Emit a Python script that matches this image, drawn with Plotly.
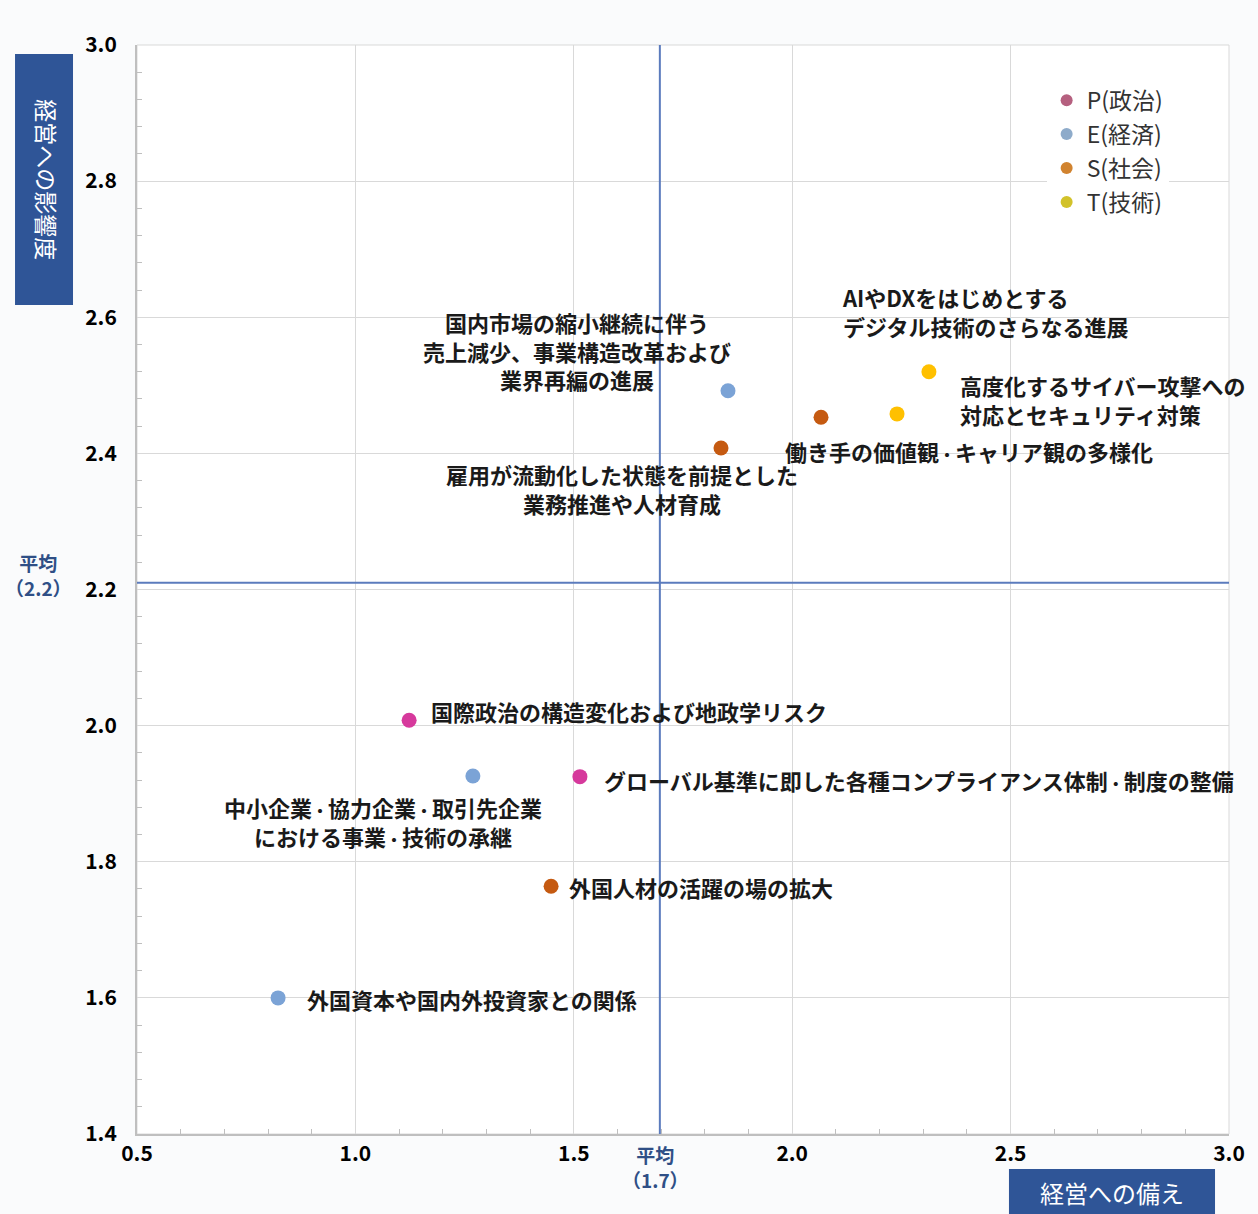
import plotly.graph_objects as go

# ---- data ----
categories = ["P(政治)", "E(経済)", "S(社会)", "T(技術)"]
point_labels = [
    "国際政治の構造変化および地政学リスク",
    "グローバル基準に即した各種コンプライアンス体制・制度の整備",
    "国内市場の縮小継続に伴う<br>売上減少、事業構造改革および<br>業界再編の進展",
    "中小企業・協力企業・取引先企業<br>における事業・技術の承継",
    "外国資本や国内外投資家との関係",
    "雇用が流動化した状態を前提とした<br>業務推進や人材育成",
    "働き手の価値観・キャリア観の多様化",
    "外国人材の活躍の場の拡大",
    "AIやDXをはじめとする<br>デジタル技術のさらなる進展",
    "高度化するサイバー攻撃への<br>対応とセキュリティ対策",
]
point_category = [0, 0, 1, 1, 1, 2, 2, 2, 3, 3]
preparedness = [1.123, 1.514, 1.853, 1.269, 0.823, 1.837, 2.066, 1.448, 2.313, 2.240]
impact = [2.008, 1.925, 2.492, 1.926, 1.600, 2.408, 2.453, 1.764, 2.520, 2.458]
mean_x = 1.697
mean_y = 2.21
mean_x_label = "平均<br>（1.7）"
mean_y_label = "平均<br>（2.2）"
x_title = "経営への備え"
y_title = "経営への影響度"

# ---- styles ----
marker_colors = ["#d6399c", "#7ba3d6", "#c55a11", "#ffc000"]
legend_colors = ["#b5607f", "#8eabca", "#d1832f", "#d2c22a"]
# label offsets (px) and anchor per point
label_layout = [
    (20, 9, "left"), (22, -3, "left"), (-151, 40, "center"), (-90, -46, "center"),
    (27, -1, "left"), (-99, -41, "center"), (-38, -34, "left"), (16, -1, "left"),
    (-89, 60, "left"), (61, 14, "left"),
]
FONT = "Noto Sans CJK JP"
BLUE = "#2f5597"


def narrow_dots(s):
    # render the middle dot proportionally narrow, as in the reference
    return s.replace("・", '<span style="font-size:16px">・</span>')


fig = go.Figure()

for ci, cat in enumerate(categories):
    idx = [i for i, c in enumerate(point_category) if c == ci]
    fig.add_trace(go.Scatter(
        x=[preparedness[i] for i in idx], y=[impact[i] for i in idx],
        mode="markers", showlegend=False, hoverinfo="skip",
        marker=dict(size=15, color=marker_colors[ci], line=dict(width=0)),
    ))
for ci, cat in enumerate(categories):
    fig.add_trace(go.Scatter(
        x=[None], y=[None], mode="markers", name=cat, legendgroup=f"g{ci}",
        marker=dict(size=13, color=legend_colors[ci]),
    ))

# mean lines
fig.add_shape(type="line", xref="x", yref="paper", x0=mean_x, x1=mean_x, y0=0, y1=1,
              line=dict(color="#5b7bbd", width=2))
fig.add_shape(type="line", xref="paper", yref="y", x0=0, x1=1, y0=mean_y, y1=mean_y,
              line=dict(color="#5b7bbd", width=2))

for i, txt in enumerate(point_labels):
    dx, dy, anc = label_layout[i]
    fig.add_annotation(x=preparedness[i], y=impact[i], text=narrow_dots(txt), showarrow=False,
                       xshift=dx, yshift=dy, xanchor=anc, yanchor="middle", align=anc,
                       font=dict(family=FONT, size=22, color="#1a1a1a", weight=600))

# mean labels
fig.add_annotation(x=mean_x, xref="x", y=0, yref="paper", yshift=-5, text=mean_x_label,
                   showarrow=False, xanchor="center", yanchor="top", xshift=-4,
                   font=dict(family=FONT, size=19, color="#2f4f86", weight=600))
fig.add_annotation(x=0, xref="paper", xshift=-99, y=mean_y, yref="y", text=mean_y_label,
                   showarrow=False, xanchor="center", yanchor="middle", yshift=8,
                   font=dict(family=FONT, size=19, color="#2f4f86", weight=600))

# axis title boxes
fig.add_shape(type="rect", xref="paper", yref="paper", x0=-0.1117, x1=-0.0586, y0=0.7612, y1=0.9917,
              fillcolor=BLUE, line=dict(width=0), layer="above")
fig.add_annotation(xref="paper", yref="paper", x=-0.0825, y=0.876, text=y_title, textangle=90,
                   xanchor="center", yanchor="middle",
                   showarrow=False, font=dict(family=FONT, size=23, color="white"))
fig.add_shape(type="rect", xref="paper", yref="paper", x0=0.7985, x1=0.9872, y0=-0.0735, y1=-0.0321,
              fillcolor=BLUE, line=dict(width=0), layer="above")
fig.add_annotation(xref="paper", yref="paper", x=0.8929, y=-0.0533, text=x_title,
                   xanchor="center", yanchor="middle",
                   showarrow=False, font=dict(family=FONT, size=24, color="white"))

fig.update_layout(
    width=1258, height=1214,
    margin=dict(l=137, r=29, t=45, b=80),
    paper_bgcolor="#fafbfc", plot_bgcolor="white",
    font=dict(family=FONT),
    legend=dict(x=0.833, y=0.969, xanchor="left", yanchor="top", bgcolor="white",
                font=dict(family=FONT, size=23, color="#333333"),
                tracegroupgap=1, itemsizing="constant", traceorder="grouped"),
    xaxis=dict(range=[0.5, 3.0], dtick=0.5, tickformat=".1f", showgrid=True,
               gridcolor="#d9d9d9", gridwidth=1, zeroline=False,
               showline=True, linecolor="#bfbfbf", linewidth=2, mirror=False,
               ticks="", tickfont=dict(family=FONT, size=21, color="black", weight=600),
               minor=dict(dtick=0.1, ticks="inside", ticklen=5, tickcolor="#bfbfbf", showgrid=False)),
    yaxis=dict(range=[1.4, 3.0], dtick=0.2, tickformat=".1f", showgrid=True,
               gridcolor="#d9d9d9", gridwidth=1, zeroline=False,
               showline=True, linecolor="#bfbfbf", linewidth=2,
               ticks="", ticklabelstandoff=14,
               tickfont=dict(family=FONT, size=21, color="black", weight=600),
               minor=dict(dtick=0.04, ticks="inside", ticklen=5, tickcolor="#bfbfbf", showgrid=False)),
)
fig.add_shape(type="rect", xref="paper", yref="paper", x0=0, x1=1, y0=0, y1=1,
              line=dict(color="#d9d9d9", width=1), layer="below")

fig.write_html("out.html", config={"displayModeBar": False},
               post_script="document.body.style.margin='0';document.body.style.overflow='hidden';")
